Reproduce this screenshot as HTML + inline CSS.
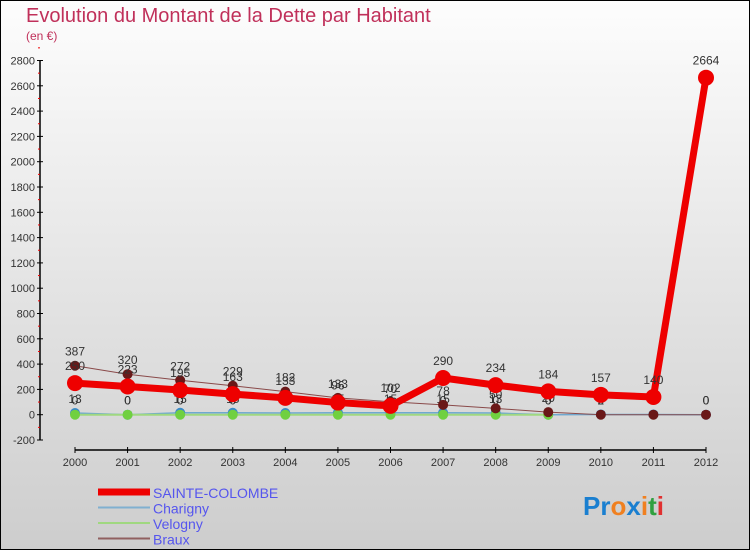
<!DOCTYPE html>
<html><head><meta charset="utf-8"><style>
body{margin:0;width:750px;height:550px;overflow:hidden}
svg{display:block;font-family:"Liberation Sans",sans-serif}
</style></head><body>
<svg id="c" width="750" height="550">
<defs><linearGradient id="bg" x1="0" y1="0" x2="0" y2="1"><stop offset="0" stop-color="#fdfdfd"/><stop offset="1" stop-color="#cdcdcd"/></linearGradient></defs>
<rect x="0.5" y="0.5" width="749" height="549" fill="url(#bg)" stroke="#000"/>
<text x="26" y="22" font-size="20" fill="#c0305a">Evolution du Montant de la Dette par Habitant</text>
<text x="26" y="40" font-size="12" fill="#c0305a">(en €)</text>
<g id="axes"></g><g id="series"></g><g id="legend"></g>
<text x="583" y="515" font-size="26" font-weight="bold"><tspan fill="#1a7fd0">Pr</tspan><tspan fill="#f08020">o</tspan><tspan fill="#1a7fd0">x</tspan><tspan fill="#f08020">i</tspan><tspan fill="#30a040">t</tspan><tspan fill="#e03030">i</tspan></text>
</svg>
<script>
const years=[2000,2001,2002,2003,2004,2005,2006,2007,2008,2009,2010,2011,2012];
const yTicks=[-200,0,200,400,600,800,1000,1200,1400,1600,1800,2000,2200,2400,2600,2800];
const sainteColombe=[250,223,195,163,133,96,70,290,234,184,157,140,2664];
const charigny=[13,0,15,15,13,15,15,15,13,0,2,2,0];
const velogny=[0,0,0,0,0,0,0,0,0,0,null,null,null];
const braux=[387,320,272,229,182,133,102,78,50,20,0,0,0];
const NS="http://www.w3.org/2000/svg";
const X=i=>75+i*(706-75)/12;
const Y=v=>414.7-v*(354.2/2800);
function mk(p,t,a){const e=document.createElementNS(NS,t);for(const k in a)e.setAttribute(k,a[k]);p.appendChild(e);return e;}
const ax=document.getElementById('axes');
let yl=mk(ax,'line',{x1:40,x2:40,y1:Y(2800),y2:Y(-200),stroke:'#000','stroke-width':1.5});


let xl=mk(ax,'line',{x1:X(0),x2:X(12),y1:450,y2:450,stroke:'#000','stroke-width':1.5});


yTicks.forEach(v=>{
  mk(ax,'line',{x1:37,x2:43,y1:Y(v),y2:Y(v),stroke:'#000'});
  mk(ax,'line',{x1:38,x2:40,y1:Y(v+100),y2:Y(v+100),stroke:'#e00'});
  const t=mk(ax,'text',{x:35,y:Y(v)+4,'font-size':11,'text-anchor':'end',fill:'#333'});
  t.textContent=v;
  
  
});
years.forEach((yr,i)=>{
  mk(ax,'line',{x1:X(i),x2:X(i),y1:447,y2:453,stroke:'#000'});
  const t=mk(ax,'text',{x:X(i),y:466,'font-size':11,'text-anchor':'middle',fill:'#333'});
  t.textContent=yr;
  
  
});
const sg=document.getElementById('series');
function draw(name,vals,color,w,r,dot){
  const g=mk(sg,'g',{});
  
  
  const pts=vals.map((v,i)=>v==null?null:[X(i),Y(v)]).filter(p=>p);
  mk(g,'polyline',{points:pts.map(p=>p.join(',')).join(' '),fill:'none',stroke:color,'stroke-width':w,'stroke-linejoin':'round'});
  vals.forEach((v,i)=>{if(v==null)return;
    const c=mk(g,'circle',{cx:X(i),cy:Y(v),r:r,fill:dot});
    
    
    const t=mk(g,'text',{x:X(i),y:Y(v)-r-5,'font-size':12,'text-anchor':'middle',fill:'#333'});
    t.textContent=v;
    
    
  });
}
draw('charigny',charigny,'#6fa8d0',1.5,5,'#3a8ac8');
draw('velogny',velogny,'#a0d880',2,5,'#70d040');
draw('braux',braux,'#8a4a4a',1,5,'#6a1818');
draw('sainte-colombe',sainteColombe,'#ee0000',7,8,'#ee0000');
const lg=document.getElementById('legend');
[['SAINTE-COLOMBE','#ee0000',7],['Charigny','#80b0d0',2],['Velogny','#a0d880',2],['Braux','#906060',2]].forEach((d,i)=>{
  const y=492+i*15.5;
  const l=mk(lg,'line',{x1:98,x2:150,y1:y,y2:y,stroke:d[1],'stroke-width':d[2]});
  
  
  const t=mk(lg,'text',{x:153,y:y+6,'font-size':14,fill:'#5555ee'});
  t.textContent=d[0];
  
  
});
</script>
</body></html>
